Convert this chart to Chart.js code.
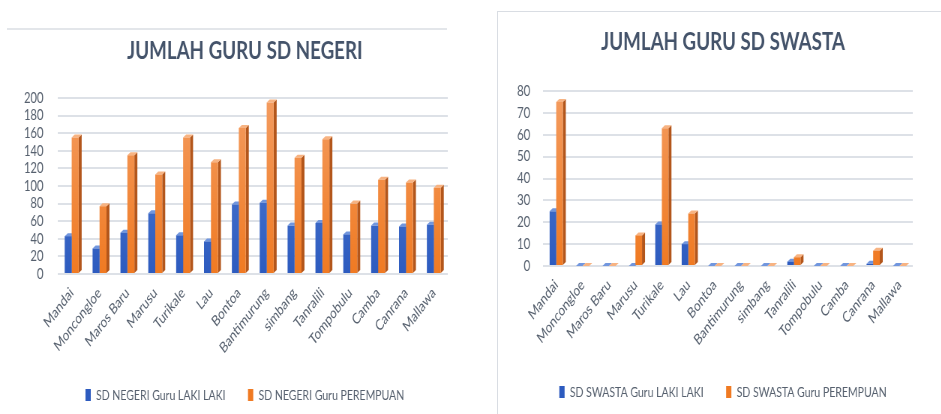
<!DOCTYPE html>
<html>
<head>
<meta charset="utf-8">
<script src="https://cdn.jsdelivr.net/npm/chart.js@4"></script>
<style>
    html, body { margin: 0; padding: 0; background: #ffffff; }
    body { width: 941px; height: 414px; position: relative; overflow: hidden; }
    #leftLine { position: absolute; left: 7px; top: 28px; width: 440px; height: 2px; background: #e3e6ea; }
    #leftBox { position: absolute; left: 0; top: 0; width: 470px; height: 414px; }
    #rightBox { position: absolute; left: 497px; top: 11px; width: 444px; height: 403px; border-top: 1px solid #d9dde3; border-left: 1px solid #d9dde3; }
    /* the source picture is squeezed sideways, so the canvases are too */
    .squeeze { position: absolute; left: 0; top: 0; transform: scaleX(0.75); transform-origin: 0 0; }
</style>
</head>
<body>
    <div id="leftLine"></div>
    <div id="leftBox"><div class="squeeze"><canvas id="negeriChart" width="627" height="414"></canvas></div></div>
    <div id="rightBox"><div class="squeeze"><canvas id="swastaChart" width="591" height="402"></canvas></div></div>

<script>
        // Data
        const kecamatan = ['Mandai', 'Moncongloe', 'Maros Baru', 'Marusu', 'Turikale', 'Lau', 'Bontoa',
            'Bantimurung', 'simbang', 'Tanralili', 'Tompobulu', 'Camba', 'Canrana', 'Mallawa'];

        const negeriLaki = [43, 29, 47, 69, 44, 37, 79, 81, 55, 58, 45, 55, 54, 56];
        const negeriPerempuan = [155, 77, 135, 113, 155, 127, 166, 195, 132, 153, 80, 107, 104, 98];

        const swastaLaki = [25, 0, 0, 0, 19, 10, 0, 0, 0, 2, 0, 0, 1, 0];
        const swastaPerempuan = [75, 0, 0, 14, 63, 24, 0, 0, 0, 4, 0, 0, 7, 0];

        const negeriTicks = [0, 20, 40, 60, 80, 100, 120, 140, 160, 180, 200];
        const swastaTicks = [0, 10, 20, 30, 40, 50, 60, 70, 80];

        const FONT = "Lato, 'Liberation Sans', Arial, sans-serif";
        const TEXT = '#56606e';

        // side and top face of every bar, drawn first so the front faces sit on top
        const bar3d = {
            id: 'bar3d',
            beforeDatasetsDraw(chart) {
                const ctx = chart.ctx;
                const dx = 4, dy = 3;
                chart.data.datasets.forEach((ds, i) => {
                    const meta = chart.getDatasetMeta(i);
                    meta.data.forEach(bar => {
                        const { x, y, base, width } = bar.getProps(['x', 'y', 'base', 'width'], true);
                        const l = x - width / 2, r = x + width / 2;
                        ctx.save();
                        ctx.fillStyle = ds.sideColor;
                        ctx.beginPath();
                        ctx.moveTo(r, y);
                        ctx.lineTo(r + dx, y - dy);
                        ctx.lineTo(r + dx, base - dy);
                        ctx.lineTo(r, base);
                        ctx.closePath();
                        ctx.fill();
                        ctx.fillStyle = ds.topColor;
                        ctx.beginPath();
                        ctx.moveTo(l, y);
                        ctx.lineTo(l + dx, y - dy);
                        ctx.lineTo(r + dx, y - dy);
                        ctx.lineTo(r, y);
                        ctx.closePath();
                        ctx.fill();
                        ctx.restore();
                    });
                });
            }
        };

        // title and legend sit a bit right of the page centre in the original
        const shiftBlocks = {
            id: 'shiftBlocks',
            afterLayout(chart) {
                const dx = chart.options.blockShift || 0;
                [chart.titleBlock, chart.legend].forEach(b => {
                    if (b) { b.left += dx; b.right += dx; }
                });
            }
        };

        function gradient(top, bottom) {
            return (context) => {
                const area = context.chart.chartArea;
                if (!area) return bottom;
                const g = context.chart.ctx.createLinearGradient(0, area.top, 0, area.bottom);
                g.addColorStop(0, top);
                g.addColorStop(1, bottom);
                return g;
            };
        }

        function makeChart(canvasId, title, series, ticks, lay) {
            const ctx = document.getElementById(canvasId).getContext('2d');
            return new Chart(ctx, {
                type: 'bar',
                data: {
                    labels: kecamatan,
                    datasets: [{
                        label: series[0].name,
                        data: series[0].data,
                        backgroundColor: gradient('#5581d6', '#2d5bbf'),
                        sideColor: '#22458c',
                        topColor: '#7196de',
                        categoryPercentage: 0.5,
                        barPercentage: 1
                    }, {
                        label: series[1].name,
                        data: series[1].data,
                        backgroundColor: gradient('#f49c60', '#f07a22'),
                        sideColor: '#b3561b',
                        topColor: '#f7b382',
                        categoryPercentage: 0.5,
                        barPercentage: 1
                    }]
                },
                options: {
                    responsive: false,
                    animation: false,
                    blockShift: lay.shift,
                    layout: { padding: { top: 0, left: lay.left, right: lay.right, bottom: lay.bottom } },
                    plugins: {
                        title: {
                            display: true,
                            text: title,
                            color: '#44536a',
                            font: { size: 25, family: FONT, weight: 'bold' },
                            padding: { top: lay.titleTop, bottom: lay.titleBottom }
                        },
                        legend: {
                            position: 'bottom',
                            labels: {
                                color: TEXT,
                                font: { size: 14, family: FONT },
                                boxWidth: 7,
                                boxHeight: 12,
                                padding: 30
                            }
                        },
                        tooltip: { enabled: false }
                    },
                    scales: {
                        x: {
                            grid: { display: false },
                            border: { display: false },
                            afterFit: (axis) => { axis.height = lay.xHeight; },
                            ticks: {
                                color: TEXT,
                                font: { size: 15, family: FONT },
                                minRotation: 45,
                                maxRotation: 45,
                                autoSkip: false,
                                padding: 2
                            }
                        },
                        y: {
                            min: ticks[0],
                            max: ticks[ticks.length - 1],
                            afterBuildTicks: (axis) => { axis.ticks = ticks.map(v => ({ value: v })); },
                            afterFit: (axis) => { axis.width = lay.yWidth; },
                            grid: { color: '#dde1e7', lineWidth: 2, drawTicks: false },
                            border: { display: false },
                            ticks: {
                                color: TEXT,
                                font: { size: 15, family: FONT },
                                padding: lay.tickPad,
                                autoSkip: false
                            }
                        }
                    }
                },
                plugins: [bar3d, shiftBlocks]
            });
        }

        makeChart('negeriChart', 'JUMLAH GURU SD NEGERI', [
            { name: 'SD NEGERI Guru LAKI LAKI', data: negeriLaki },
            { name: 'SD NEGERI Guru PEREMPUAN', data: negeriPerempuan }
        ], negeriTicks, { left: 20, right: 30, bottom: 2, yWidth: 57, tickPad: 19, xHeight: 84, titleTop: 36, titleBottom: 32, shift: 18 });

        makeChart('swastaChart', 'JUMLAH GURU SD SWASTA', [
            { name: 'SD SWASTA Guru LAKI LAKI', data: swastaLaki },
            { name: 'SD SWASTA Guru PEREMPUAN', data: swastaPerempuan }
        ], swastaTicks, { left: 15, right: 38, bottom: 5, yWidth: 45, tickPad: 17, xHeight: 89, titleTop: 15, titleBottom: 34, shift: 16 });
</script>
</body>
</html>
